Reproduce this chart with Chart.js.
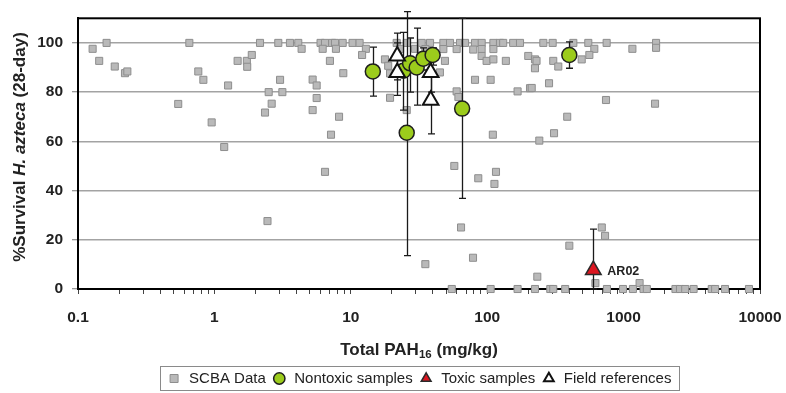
<!DOCTYPE html>
<html>
<head>
<meta charset="utf-8">
<title>Survival vs Total PAH</title>
<script src="https://cdn.jsdelivr.net/npm/chart.js@4.4.1/dist/chart.umd.min.js"></script>
<style>
  html, body { margin: 0; padding: 0; background: #fff; }
  canvas { display: block; }
</style>
</head>
<body>
<canvas id="survivalChart" width="786" height="393"></canvas>
<script>
const FONT_FAMILY = "'Liberation Sans', Arial, sans-serif";

const seriesNames = [
  "SCBA Data",
  "Nontoxic samples",
  "Toxic samples",
  "Field references"
];

// SCBA database samples (grey squares)
const scbaX = [
  0.162, 0.655, 2.16, 2.94, 3.58, 4.12, 6.0, 6.47, 7.3, 7.66, 8.72, 10.3, 11.6,
  21.7, 25.7, 33.1, 38.1, 47.7, 53.4, 63.2, 68.8, 81.4, 91.1, 111, 124, 131,
  155, 174, 258, 302, 428, 551, 751, 1730,
  0.128, 4.36, 6.22, 7.78, 12.9, 23, 29.6, 35.2, 47.7, 59.7, 79, 91, 111, 610,
  1160, 1730,
  0.143, 0.186, 0.221, 0.23, 0.762, 0.83, 0.543, 0.955, 1.26, 1.18, 1.48, 1.73,
  1.74, 1.88, 3.03, 2.5, 3.15, 2.63, 2.35, 2.45, 12.1, 7.03, 8.81, 5.25, 5.62,
  5.62, 5.25, 8.2, 7.16, 6.47, 17.8, 18.8, 19.4, 19.4, 25.7, 45, 49, 59.7,
  61.5, 81.4, 106, 91, 99, 111, 137, 200, 224, 224, 167, 206, 110, 241, 57.4,
  86, 116, 113, 64.3, 78.7, 35.2, 233, 400, 692, 731, 621, 1310, 561, 493, 305,
  332, 230, 284, 212, 743, 1700, 386, 309,
  55, 106, 167, 224, 290, 305, 373, 755, 990, 1170, 1400, 1480, 2400, 2590,
  2830, 3260, 4430, 4690, 5540, 8300
];
const scbaY = [
  100, 100, 100, 100, 100, 100, 100, 100, 100, 100, 100, 100, 100,
  100, 100, 100, 100, 100, 100, 100, 100, 100, 100, 100, 100, 100,
  100, 100, 100, 100, 100, 100, 100, 100,
  97.6, 97.6, 97.6, 97.6, 97.6, 97.6, 97.6, 97.5, 97.5, 97.5, 97.3, 97.5, 97.5,
  97.6, 97.6, 98,
  92.7, 90.4, 87.7, 88.4, 88.4, 85, 75.2, 67.7, 82.7, 57.7, 92.7, 92.7,
  90.3, 95.1, 85, 80, 80, 75.3, 71.7, 27.6, 95.1, 92.7, 87.7, 85.1, 82.7,
  77.6, 72.7, 70, 62.7, 47.6, 93.3, 90.7, 87.6, 77.7, 72.7, 88, 92.7, 80.3,
  78, 85, 85, 94.7, 92.7, 93.3, 92.7, 94.7, 89.7, 93.3, 80.3, 81.6, 62.7, 60.3,
  50, 45, 47.6, 42.7, 25, 12.7, 10.1, 5, 17.6, 25, 21.6, 2.4, 2.4, 95.1, 93.3,
  92.7, 90.4, 92.7, 83.6, 81.7, 76.8, 75.3, 70, 63.3,
  0, 0, 0, 0, 0, 0, 0, 0, 0, 0, 0, 0, 0, 0,
  0, 0, 0, 0, 0, 0
];

// Nontoxic site samples (green circles) with error bar ends
const nontoxicX = [14.5, 24.3, 25.7, 27.2, 30.4, 34, 39.8, 65.5, 400];
const nontoxicY = [88.4, 88.7, 63.5, 91.7, 90, 93.6, 95.1, 73.3, 95.1];
const nontoxicLow = [78.4, 72.7, 13.6, 80, 74.7, 89, 91, 36.8, 89.7];
const nontoxicHigh = [98.3, 104.3, 112.7, 102, 106, 98, 98, 110, 100.4];

// Toxic site sample (red triangle)
const toxicX = [600];
const toxicY = [7.7];
const toxicLow = [0];
const toxicHigh = [24.3];
const toxicNames = ["AR02"];

// Field reference samples (open triangles)
const fieldX = [21.9, 21.9, 38.5, 38.5];
const fieldY = [94.7, 88, 88, 76.7];
const fieldLow = [85, 78.7, 80, 63];
const fieldHigh = [104, 100, 95, 89];

const yTicks = [0, 20, 40, 60, 80, 100];
const xDecades = [0.1, 1, 10, 100, 1000, 10000];
const xTickLabels = ["0.1", "1", "10", "100", "1000", "10000"];

function toPoints(xs, ys) {
  return xs.map((x, i) => ({ x: x, y: ys[i] }));
}

function buildXTicks() {
  const ticks = [];

  xDecades.forEach((decade, i) => {
    if (i === xDecades.length - 1) {
      ticks.push({ value: decade });
      return;
    }
    for (let k = 1; k < 10; k++) {
      ticks.push({ value: decade * k });
    }
  });

  return ticks;
}

function xTickLabel(value) {
  const i = xDecades.findIndex((d) => Math.abs(value - d) < d * 1e-9);
  return i >= 0 ? xTickLabels[i] : "";
}

function drawFrame(chart) {
  const { ctx, chartArea } = chart;
  ctx.save();
  ctx.strokeStyle = "#000";
  ctx.lineWidth = 2;
  ctx.strokeRect(
    chartArea.left,
    chartArea.top,
    chartArea.right - chartArea.left,
    chartArea.bottom - chartArea.top
  );
  ctx.restore();
}

function drawErrorBars(chart) {
  const { ctx } = chart;
  const xScale = chart.scales.x;
  const yScale = chart.scales.y;

  ctx.save();
  ctx.strokeStyle = "#1a1a1a";
  ctx.lineWidth = 1.3;

  chart.data.datasets.forEach((dataset) => {
    if (!dataset.errorLow) {
      return;
    }
    dataset.data.forEach((point, i) => {
      const px = Math.round(xScale.getPixelForValue(point.x)) + 0.5;
      const top = yScale.getPixelForValue(dataset.errorHigh[i]);
      const bottom = yScale.getPixelForValue(dataset.errorLow[i]);

      ctx.beginPath();
      ctx.moveTo(px, top);
      ctx.lineTo(px, bottom);
      ctx.moveTo(px - 3.5, top);
      ctx.lineTo(px + 3.5, top);
      ctx.moveTo(px - 3.5, bottom);
      ctx.lineTo(px + 3.5, bottom);
      ctx.stroke();
    });
  });

  ctx.restore();
}

function drawSegments(ctx, segments, centerX, centerY) {
  let total = 0;
  segments.forEach((s) => {
    ctx.font = s.font;
    total += ctx.measureText(s.text).width;
  });

  let x = centerX - total / 2;
  segments.forEach((s) => {
    ctx.font = s.font;
    ctx.fillText(s.text, x, centerY + (s.shift || 0));
    x += ctx.measureText(s.text).width;
  });
}

function drawTitles(chart) {
  const { ctx, chartArea } = chart;

  ctx.save();
  ctx.fillStyle = "#222";
  ctx.textAlign = "left";
  ctx.textBaseline = "middle";

  // x axis title with subscript
  drawSegments(
    ctx,
    [
      { text: "Total PAH", font: "bold 17px " + FONT_FAMILY },
      { text: "16", font: "bold 11.5px " + FONT_FAMILY, shift: 5 },
      { text: " (mg/kg)", font: "bold 17px " + FONT_FAMILY }
    ],
    (chartArea.left + chartArea.right) / 2,
    350
  );

  // y axis title with italic species name
  ctx.translate(20, 147);
  ctx.rotate(-Math.PI / 2);
  drawSegments(
    ctx,
    [
      { text: "%Survival ", font: "bold 17px " + FONT_FAMILY },
      { text: "H. azteca", font: "italic bold 17px " + FONT_FAMILY },
      { text: " (28-day)", font: "bold 17px " + FONT_FAMILY }
    ],
    0,
    0
  );

  ctx.restore();
}

function drawSampleNames(chart) {
  const { ctx } = chart;
  const meta = chart.getDatasetMeta(2);

  ctx.save();
  ctx.fillStyle = "#222";
  ctx.font = "bold 12.5px " + FONT_FAMILY;
  ctx.textAlign = "left";
  ctx.textBaseline = "middle";
  meta.data.forEach((element, i) => {
    ctx.fillText(toxicNames[i], element.x + 14, element.y + 1);
  });
  ctx.restore();
}

function drawLegendBox(chart) {
  const boxes = chart.legend.legendHitBoxes;
  if (!boxes || boxes.length === 0) {
    return;
  }

  const first = boxes[0];
  const last = boxes[boxes.length - 1];
  const { ctx } = chart;

  ctx.save();
  ctx.strokeStyle = "#8a8a8a";
  ctx.lineWidth = 1;
  ctx.strokeRect(
    Math.round(first.left - 7) + 0.5,
    Math.round(first.top - 5) + 0.5,
    Math.round(last.left + last.width - first.left + 14),
    Math.round(first.height + 9)
  );
  ctx.restore();
}

const chartDecorations = {
  id: "chartDecorations",
  beforeDatasetsDraw(chart) {
    drawFrame(chart);
  },
  afterDatasetDraw(chart, args) {
    if (args.index === 0) {
      drawErrorBars(chart);
    }
  },
  afterDraw(chart) {
    drawTitles(chart);
    drawSampleNames(chart);
    drawLegendBox(chart);
  }
};

function createChart() {
  new Chart(document.getElementById("survivalChart"), {
    type: "scatter",
    data: {
      datasets: [
        {
          label: seriesNames[0],
          data: toPoints(scbaX, scbaY),
          pointStyle: "rect",
          pointRadius: 5,
          borderWidth: 1,
          backgroundColor: "#b9b9b9",
          borderColor: "#8e8e8e",
          clip: false,
          order: 4
        },
        {
          label: seriesNames[1],
          data: toPoints(nontoxicX, nontoxicY),
          errorLow: nontoxicLow,
          errorHigh: nontoxicHigh,
          pointStyle: "circle",
          pointRadius: 7.5,
          borderWidth: 1.5,
          backgroundColor: "#9ccc1c",
          borderColor: "#1e1e1e",
          clip: false,
          order: 3
        },
        {
          label: seriesNames[2],
          data: toPoints(toxicX, toxicY),
          errorLow: toxicLow,
          errorHigh: toxicHigh,
          pointStyle: "triangle",
          pointRadius: 9,
          borderWidth: 1.5,
          backgroundColor: "#dd1620",
          borderColor: "#2a2a2a",
          clip: false,
          order: 2
        },
        {
          label: seriesNames[3],
          data: toPoints(fieldX, fieldY),
          errorLow: fieldLow,
          errorHigh: fieldHigh,
          pointStyle: "triangle",
          pointRadius: 9,
          borderWidth: 2,
          backgroundColor: "#ffffff",
          borderColor: "#111111",
          clip: false,
          order: 1
        }
      ]
    },
    options: {
      responsive: false,
      animation: false,
      events: [],
      layout: {
        padding: { top: 15, right: 26, left: 0, bottom: -3 }
      },
      scales: {
        x: {
          type: "logarithmic",
          min: 0.1,
          max: 10000,
          afterBuildTicks: (scale) => {
            scale.ticks = buildXTicks();
          },
          afterFit: (scale) => {
            scale.height = 76;
            scale.paddingLeft = 12;
            scale.paddingRight = 22;
          },
          ticks: {
            autoSkip: false,
            maxRotation: 0,
            padding: 14,
            color: "#222",
            font: { family: FONT_FAMILY, size: 15.5, weight: "bold" },
            callback: (value) => xTickLabel(value)
          },
          grid: {
            drawOnChartArea: false,
            drawTicks: true,
            tickLength: 5,
            tickColor: "#444",
            tickWidth: 1
          },
          border: { color: "#000", width: 2 }
        },
        y: {
          min: 0,
          max: 110,
          afterBuildTicks: (scale) => {
            scale.ticks = yTicks.map((value) => ({ value: value }));
          },
          afterFit: (scale) => {
            scale.width = 78;
          },
          ticks: {
            padding: 9,
            color: "#222",
            font: { family: FONT_FAMILY, size: 15.5, weight: "bold" },
            callback: (value) => String(value)
          },
          grid: {
            color: (context) =>
              context.tick && context.tick.value === 0 ? "rgba(0,0,0,0)" : "#a3a3a3",
            lineWidth: 1.5,
            tickLength: 6,
            tickColor: "#777",
            tickWidth: 1
          },
          border: { color: "#000", width: 2 }
        }
      },
      plugins: {
        tooltip: { enabled: false },
        legend: {
          position: "bottom",
          fullSize: false,
          labels: {
            usePointStyle: true,
            boxHeight: 8,
            padding: 6,
            color: "#222",
            font: { family: FONT_FAMILY, size: 15 },
            sort: (a, b) => a.datasetIndex - b.datasetIndex
          }
        }
      }
    },
    plugins: [chartDecorations]
  });
}

createChart();
</script>
</body>
</html>
